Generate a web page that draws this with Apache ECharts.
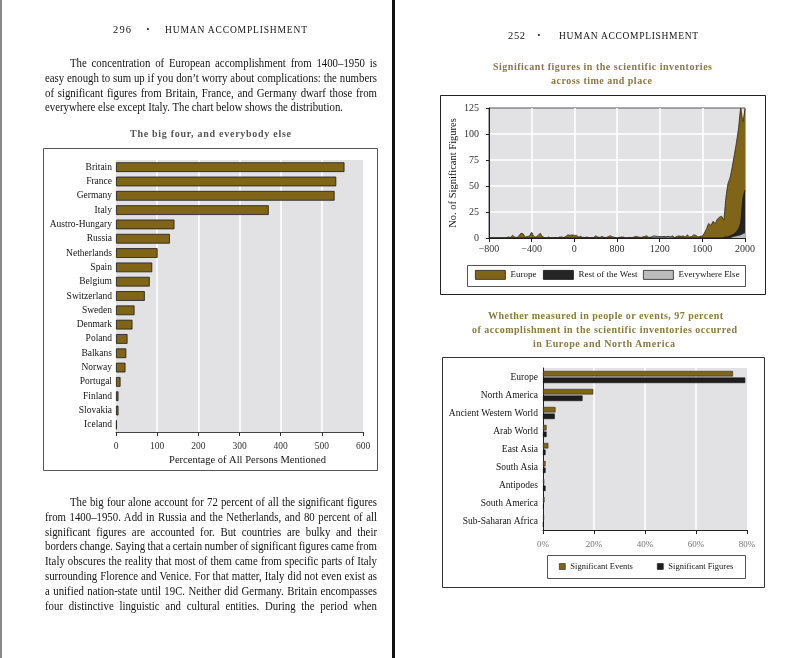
<!DOCTYPE html>
<html><head><meta charset="utf-8">
<script src="https://cdn.jsdelivr.net/npm/echarts/dist/echarts.min.js"></script>
<style>
html,body{margin:0;padding:0;background:#fff;}
body{width:800px;height:658px;position:relative;overflow:hidden;}
#chart{position:absolute;left:0;top:0;width:800px;height:658px;}
.t{position:absolute;white-space:nowrap;font-family:'Liberation Serif',serif;color:#141414;z-index:5;}
.rule{position:absolute;top:0;height:658px;z-index:6;}
</style>
</head><body>
<div id="chart"></div>
<div class="rule" style="left:0;width:2px;background:#8a8a8a"></div>
<div class="rule" style="left:392px;width:3px;background:#111"></div>
<script>
// ---------- data ----------
const countries = ['Britain','France','Germany','Italy','Austro-Hungary','Russia','Netherlands','Spain','Belgium','Switzerland','Sweden','Denmark','Poland','Balkans','Norway','Portugal','Finland','Slovakia','Iceland'];
const countryValues = [555,535,531,371,142,131,101,88,82,70,45,40,28,25,23,11,6,6,2];

const timeTickLabels = ['\u2212800','\u2212400','0','800','1200','1600','2000'];
const europe = [
 0,0,0,0,0,0,0,0,0,1, 0.5,2.5,1,0.5,2,4.5,4,1,1.5,2,
 5.5,1.5,1,2.5,4.5,1.5,0.5,0,1,0, 0,0.5,0,1,1,0.5,1.5,3,2.5,3,
 2.5,2.5,1,1.5,0.5,0.5,1,0,0.5,0.5, 2,1,0.5,1.5,0.5,0.5,1.5,2,1,0.5,
 0,0.5,1,1,0,0,0.5,0,1,1.5, 1,0.5,1,1.5,2,0.5,0.5,1,1,1,
 1.5,1,1.5,1,1.5,1,2,0.5,1.5,2, 1.5,2,1,3,1,1.5,3,2.5,1,1.5,
 2,5,9,14,12,16,14,18,20,21, 17,38,52,58,68,80,92,106,125,112,
 124];
const restOfWest = [
 0,0,0,0,0,0,0,0,0,0, 0,0,0,0,0,0,0,0,0,0,
 0,0,0,0,0,0,0,0,0,0, 0,0,0,0,0,0,0,0,0,0,
 0,0,0,0,0,0,0,0,0,0, 0,0,0,0,0,0,0,0,0,0,
 0,0,0,0,0,0,0,0,0,0, 0,0,0,0,0,0,0,0,0,0,
 0,0,0,0,0,0,0,0,0,0, 0,0,0,0,0,0,0,0,0,0,
 0,0,0,0,0,0,0,0,0,0, 0.5,1,1,2,3,4,6,9,15,38,
 46];
const everywhereElse = [
 0,0,0,0,0,0,0,0,0,0, 0,0,0,0,0,0,0,0,0,0,
 0,0,0,0,0,0,0,0,0,0, 0,0,0,0,0,0,0,0,0,0,
 0,0,0,0,0,0,0,0,0,0, 0,0,0,0,0,0,0,0,0,0,
 0,0,0,0,0,0,0,0,0,0, 0,0,0,0,0,0.5,1,2,2,1.5,
 1,1.5,1,1,1.5,1,1,0,0,0, 0,0,0,0,0,0,0,0,0,0,
 0,0,0,0,0,0,0,0,0,0, 0,0,0,0,1,1.5,2,2.5,3,4,
 5];

const regions = ['Europe','North America','Ancient Western World','Arab World','East Asia','South Asia','Antipodes','South America','Sub-Saharan Africa'];
const sigEvents  = [74.5,19.7,4.9,1.4,2.1,1.0,0.5,0.6,0.4];
const sigFigures = [79.3,15.5,4.6,1.4,1.0,1.0,1.0,0.3,0.2];

// ---------- chart ----------
const FONT = 'Liberation Serif';
const GOLD = '#806418';
const chart = echarts.init(document.getElementById('chart'), null, {renderer:'canvas', width:800, height:658});
const pts = arr => arr.map((v,i)=>[i,v]);
const lbl = (size, color, extra) => Object.assign({fontFamily:FONT, fontSize:size, color:color||'#222'}, extra||{});

chart.setOption({
  animation:false,
  textStyle:{fontFamily:FONT},
  grid:[
    {left:116, top:160, width:247, height:272, show:true, backgroundColor:'#e2e2e4', borderWidth:0, containLabel:false, outerBoundsMode:'none'},
    {left:489, top:108, width:256, height:130, show:true, backgroundColor:'#e2e2e4', borderColor:'#555', borderWidth:1, containLabel:false, outerBoundsMode:'none'},
    {left:543, top:368, width:204, height:162, show:true, backgroundColor:'#e2e2e4', borderWidth:0, containLabel:false, outerBoundsMode:'none'}
  ],
  xAxis:[
    {gridIndex:0, type:'value', min:0, max:600, interval:100,
     axisLine:{show:true, lineStyle:{color:'#444', width:1}},
     axisTick:{show:true, length:4, lineStyle:{color:'#333'}},
     splitLine:{show:true, showMinLine:false, showMaxLine:false, lineStyle:{color:'#ffffff', width:1.5}},
     axisLabel:lbl(9.5,'#333',{margin:9}),
     name:'Percentage of All Persons Mentioned', nameLocation:'middle', nameGap:23,
     nameTextStyle:lbl(10.5,'#141414',{padding:[0,0,0,16]})},
    {gridIndex:1, type:'value', min:0, max:120, interval:20,
     axisLine:{show:true, lineStyle:{color:'#222', width:1}},
     axisTick:{show:true, length:4, lineStyle:{color:'#222'}},
     splitLine:{show:true, showMinLine:false, showMaxLine:false, lineStyle:{color:'#ffffff', width:1.5}},
     axisLabel:lbl(10,'#333',{margin:6, formatter:v=>timeTickLabels[Math.round(v/20)]})},
    {gridIndex:2, type:'value', min:0, max:80, interval:20,
     axisLine:{show:true, lineStyle:{color:'#222', width:1}},
     axisTick:{show:true, length:4, lineStyle:{color:'#222'}},
     splitLine:{show:true, showMinLine:false, showMaxLine:false, lineStyle:{color:'#ffffff', width:1.5}},
     axisLabel:lbl(9,'#777',{margin:10, formatter:'{value}%'})}
  ],
  yAxis:[
    {gridIndex:0, type:'category', data:countries, inverse:true,
     axisLine:{show:false}, axisTick:{show:false}, splitLine:{show:false},
     axisLabel:lbl(9.5,'#141414',{margin:4})},
    {gridIndex:1, type:'value', min:0, max:125, interval:25,
     axisLine:{show:true, lineStyle:{color:'#222', width:1}},
     axisTick:{show:true, length:3, lineStyle:{color:'#222'}},
     splitLine:{show:true, showMinLine:false, showMaxLine:false, lineStyle:{color:'#ffffff', width:1.5}},
     axisLabel:lbl(10,'#333',{margin:10}),
     name:'No. of Significant Figures', nameLocation:'middle', nameGap:30, nameRotate:90,
     nameTextStyle:lbl(10.5,'#141414')},
    {gridIndex:2, type:'category', data:regions, inverse:true,
     axisLine:{show:true, lineStyle:{color:'#222', width:1}}, axisTick:{show:false}, splitLine:{show:false},
     axisLabel:lbl(9.5,'#141414',{margin:5})}
  ],
  legend:[
    {data:[{name:'Europe', itemStyle:{color:GOLD, borderColor:'#222', borderWidth:0.8}}], left:475, top:270, icon:'rect', itemWidth:30, itemHeight:9, padding:0, selectedMode:false, textStyle:lbl(9,'#141414')},
    {data:[{name:'Rest of the West', itemStyle:{color:'#252525', borderColor:'#111', borderWidth:0.8}}], left:543, top:270, icon:'rect', itemWidth:30, itemHeight:9, padding:0, selectedMode:false, textStyle:lbl(9,'#141414')},
    {data:[{name:'Everywhere Else', itemStyle:{color:'#bcbcbc', borderColor:'#222', borderWidth:0.8}}], left:643, top:270, icon:'rect', itemWidth:30, itemHeight:9, padding:0, selectedMode:false, textStyle:lbl(9,'#141414')},
    {data:[{name:'Significant Events', itemStyle:{color:GOLD, borderColor:'#222', borderWidth:0.6}}], left:559, top:562, icon:'rect', itemWidth:6, itemHeight:6, padding:0, selectedMode:false, textStyle:lbl(8.5,'#141414')},
    {data:[{name:'Significant Figures', itemStyle:{color:'#1e1e1e', borderColor:'#111', borderWidth:0.6}}], left:657, top:562, icon:'rect', itemWidth:6, itemHeight:6, padding:0, selectedMode:false, textStyle:lbl(8.5,'#141414')}
  ],
  series:[
    {name:'Persons', type:'bar', xAxisIndex:0, yAxisIndex:0, data:countryValues, barWidth:'68%',
     itemStyle:{color:GOLD, borderColor:'#1a1a1a', borderWidth:0.8}},
    {name:'Europe', type:'line', xAxisIndex:1, yAxisIndex:1, data:pts(europe), symbol:'none', smooth:0.15,
     itemStyle:{color:GOLD}, lineStyle:{color:'#2a2410', width:0.8}, areaStyle:{color:GOLD, opacity:1}},
    {name:'Rest of the West', type:'line', xAxisIndex:1, yAxisIndex:1, data:pts(restOfWest), symbol:'none', smooth:0.15,
     itemStyle:{color:'#252525'}, lineStyle:{color:'#111', width:0.8}, areaStyle:{color:'#252525', opacity:1}},
    {name:'Everywhere Else', type:'line', xAxisIndex:1, yAxisIndex:1, data:pts(everywhereElse), symbol:'none', smooth:0.15,
     itemStyle:{color:'#bcbcbc'}, lineStyle:{color:'#333', width:0.7}, areaStyle:{color:'#bcbcbc', opacity:1}},
    {name:'Significant Events', type:'bar', xAxisIndex:2, yAxisIndex:2, data:sigEvents, barWidth:5.5, barGap:'20%',
     itemStyle:{color:GOLD, borderColor:'#2a2a2a', borderWidth:0.6}},
    {name:'Significant Figures', type:'bar', xAxisIndex:2, yAxisIndex:2, data:sigFigures, barWidth:5.5, barGap:'20%',
     itemStyle:{color:'#1e1e1e', borderColor:'#111', borderWidth:0.6}}
  ],
  graphic:[
    {type:'rect', silent:true, shape:{x:43.5, y:148.5, width:334, height:322}, style:{fill:'none', stroke:'#555', lineWidth:1}},
    {type:'rect', silent:true, shape:{x:440.5, y:95.5, width:325, height:199}, style:{fill:'none', stroke:'#222', lineWidth:1}},
    {type:'rect', silent:true, shape:{x:467.5, y:265.5, width:278, height:21}, style:{fill:'none', stroke:'#555', lineWidth:1}},
    {type:'rect', silent:true, shape:{x:442.5, y:357.5, width:322, height:230}, style:{fill:'none', stroke:'#333', lineWidth:1}},
    {type:'rect', silent:true, shape:{x:547.5, y:555.5, width:198, height:23}, style:{fill:'none', stroke:'#555', lineWidth:1}}
  ]
});

// ---------- page text ----------
function addText(txt, x, y, o) {
  o = o || {};
  const d = document.createElement('div');
  d.className = 't';
  d.textContent = txt;
  const fs = o.fs || 12;
  const lh = Math.round(fs * 1.3);
  d.style.fontSize = fs + 'px';
  d.style.lineHeight = lh + 'px';
  d.style.top = (y - lh / 2) + 'px';
  d.style.left = x + 'px';
  if (o.bold) d.style.fontWeight = 'bold';
  if (o.color) d.style.color = o.color;
  document.body.appendChild(d);
  const nat = d.getBoundingClientRect().width;
  if (o.w) {
    if (o.mode === 'track') {
      d.style.letterSpacing = ((o.w - nat) / Math.max(1, txt.length - 1)) + 'px';
    } else {
      // justified paragraph line, with the narrow book face imitated by a slight horizontal squeeze
      let s = o.scale || 0.9;
      const n = Math.max(1, (txt.match(/ /g) || []).length);
      let ws = (o.w / s - nat) / n;
      if (ws < -0.8) { s = o.w / (nat - 0.8 * n); ws = -0.8; }
      d.style.transformOrigin = '0 50%';
      d.style.transform = 'scaleX(' + s + ')';
      d.style.wordSpacing = ws + 'px';
    }
  }
  if (o.cx !== undefined) {
    const w = d.getBoundingClientRect().width;
    d.style.left = (o.cx - w / 2) + 'px';
  }
  return d;
}

// running heads
addText('296', 113, 30, {fs:10.5, w:18, mode:'track'});
addText('\u2022', 0, 30, {fs:8, cx:148});
addText('HUMAN ACCOMPLISHMENT', 165, 30, {fs:9.5, w:142, mode:'track'});
addText('252', 508, 36, {fs:10.5, w:17, mode:'track'});
addText('\u2022', 0, 36, {fs:8, cx:539});
addText('HUMAN ACCOMPLISHMENT', 559, 36, {fs:9.5, w:139, mode:'track'});

// left page text
const topPara = [
  'The concentration of European accomplishment from 1400\u20131950 is',
  'easy enough to sum up if you don\u2019t worry about complications: the numbers',
  'of significant figures from Britain, France, and Germany dwarf those from',
  'everywhere else except Italy. The chart below shows the distribution.'
];
const LEAD = 14.8;
addText(topPara[0], 70, 63, {w:307});
addText(topPara[1], 45, 63 + LEAD, {w:332});
addText(topPara[2], 45, 63 + 2 * LEAD, {w:332});
addText(topPara[3], 45, 63 + 3 * LEAD, {w:298});

addText('The big four, and everybody else', 130, 133, {fs:10, bold:true, color:'#555', w:161, mode:'track'});

const bottomPara = [
  'The big four alone account for 72 percent of all the significant figures',
  'from 1400\u20131950. Add in Russia and the Netherlands, and 80 percent of all',
  'significant figures are accounted for. But countries are bulky and their',
  'borders change. Saying that a certain number of significant figures came from',
  'Italy obscures the reality that most of them came from specific parts of Italy',
  'surrounding Florence and Venice. For that matter, Italy did not even exist as',
  'a unified nation-state until 19C. Neither did Germany. Britain encompasses',
  'four distinctive linguistic and cultural entities. During the period when'
];
bottomPara.forEach((s, i) => {
  const y = 502 + i * LEAD;
  if (i === 0) addText(s, 70, y, {w:307});
  else addText(s, 45, y, {w:332});
});

// right page titles
const OLIVE = '#8a7a3e';
addText('Significant figures in the scientific inventories', 493, 66, {fs:10, bold:true, color:OLIVE, w:219, mode:'track'});
addText('across time and place', 551, 80, {fs:10, bold:true, color:OLIVE, w:101, mode:'track'});
addText('Whether measured in people or events, 97 percent', 488, 315, {fs:10, bold:true, color:OLIVE, w:235, mode:'track'});
addText('of accomplishment in the scientific inventories occurred', 472, 329, {fs:10, bold:true, color:OLIVE, w:265, mode:'track'});
addText('in Europe and North America', 533, 343, {fs:10, bold:true, color:OLIVE, w:142, mode:'track'});
</script>
</body></html>
